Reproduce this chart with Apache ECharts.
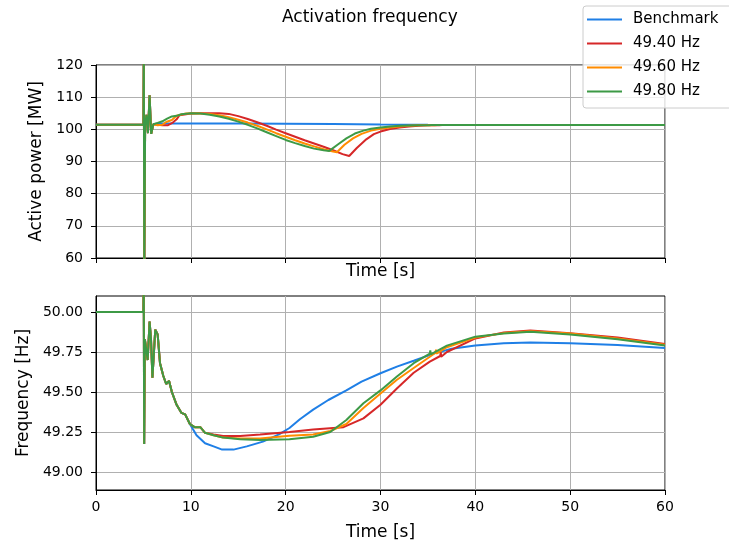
<!DOCTYPE html>
<html><head><meta charset="utf-8">
<script src="https://cdn.jsdelivr.net/npm/echarts@6/dist/echarts.min.js"></script>
<style>html,body{margin:0;padding:0;background:#fff}#c{width:729px;height:545px}</style>
</head><body><div id="c"></div>
<script>
// ---------- data ----------
const seriesNames = ['Benchmark', '49.40 Hz', '49.60 Hz', '49.80 Hz'];
const seriesColors = ['#1f7fe6', '#d62728', '#ff8c00', '#3d9a46'];
const xTicks = [0, 10, 20, 30, 40, 50, 60];
const powerTicks = [60, 70, 80, 90, 100, 110, 120];
const freqTicks = [49.00, 49.25, 49.50, 49.75, 50.00];

// Active power: common pre-event + spike
const tPowCommon = [0, 5.0, 5.04, 5.09, 5.18, 5.32, 5.48, 5.65, 5.82, 6.05];
const pPowCommon = [101.4, 101.4, 126, 55, 101.2, 104.5, 98.8, 110.6, 98.6, 101.6];

const tPowBench = [6.5, 10, 15, 20, 25, 30, 35, 40, 60];
const pPowBench = [101.8, 101.8, 101.8, 101.75, 101.65, 101.5, 101.4, 101.35, 101.35];

const tPow4940 = [6.5, 7.0, 7.6, 8.1, 8.5, 8.8, 9.5, 10, 11, 12, 13, 14, 15, 16, 17, 18, 19, 20, 21, 22, 23, 24, 25, 26, 26.7, 27.5, 28.5, 29.3, 30, 31, 32, 33, 34, 35, 36.2, 36.3, 36.4, 36.5, 40, 60];
const pPow4940 = [101.4, 101.3, 101.3, 102.1, 103.1, 104.4, 104.7, 104.9, 105.0, 105.0, 105.0, 104.8, 104.1, 103.2, 102.2, 101.1, 99.9, 98.8, 97.7, 96.6, 95.6, 94.6, 93.5, 92.3, 91.7, 94.2, 96.9, 98.5, 99.3, 100.1, 100.6, 100.9, 101.1, 101.25, 101.3, 101.9, 100.9, 101.35, 101.35, 101.35];

const tPow4960 = [6.5, 7.0, 7.4, 8.0, 8.5, 9.0, 9.5, 10.5, 12, 13, 14, 15, 16, 17, 18, 19, 20, 21, 22, 23, 24, 25, 25.4, 26.2, 27.1, 28, 29, 30, 31, 32, 33, 34, 35.7, 35.8, 35.9, 36, 40, 60];
const pPow4960 = [101.3, 101.4, 102.3, 102.9, 104.2, 104.6, 104.9, 105.0, 104.8, 104.4, 103.8, 103.0, 102.1, 101.1, 100.0, 98.8, 97.7, 96.6, 95.6, 94.7, 93.8, 93.1, 92.9, 95.2, 97.2, 98.6, 99.6, 100.2, 100.6, 100.9, 101.1, 101.25, 101.3, 101.8, 101.0, 101.35, 101.35, 101.35];

const tPow4980 = [6.5, 7.0, 7.5, 8.0, 8.5, 9.0, 10, 11, 12, 13, 14, 15, 16, 17, 18, 19, 20, 21, 22, 23, 24, 24.6, 25.5, 26.4, 27.3, 28.2, 29, 30, 31, 32, 33, 34, 35.1, 35.2, 35.3, 35.4, 40, 60];
const pPow4980 = [102.0, 102.5, 103.3, 104.0, 104.2, 104.7, 105.0, 104.9, 104.5, 104.0, 103.3, 102.4, 101.4, 100.3, 99.1, 97.9, 96.7, 95.7, 94.8, 94.0, 93.5, 93.3, 95.3, 97.2, 98.7, 99.6, 100.2, 100.6, 100.9, 101.1, 101.2, 101.3, 101.3, 101.9, 100.9, 101.35, 101.35, 101.35];

// Frequency: common pre-event + spike + first decay
const tFreqCommon = [0, 5.0, 5.03, 5.08, 5.15, 5.3, 5.45, 5.65, 5.8, 5.95, 6.25, 6.5, 6.75, 7.1, 7.4, 7.7, 8.0, 8.5, 9.0, 9.4, 9.9];
const fFreqCommon = [50.0, 50.0, 50.3, 49.175, 49.83, 49.83, 49.70, 49.94, 49.83, 49.59, 49.89, 49.86, 49.68, 49.60, 49.55, 49.57, 49.50, 49.42, 49.37, 49.36, 49.30];

const tFreqBench = [10.6, 11.5, 12.4, 13.3, 14.5, 15.9, 17.6, 19.3, 20.4, 21.5, 22.9, 24.5, 26.4, 28, 30, 31.8, 33.5, 35.6, 37.5, 40, 43, 45.8, 50, 55, 60];
const fFreqBench = [49.23, 49.18, 49.16, 49.14, 49.14, 49.16, 49.19, 49.235, 49.275, 49.33, 49.39, 49.45, 49.51, 49.565, 49.617, 49.66, 49.695, 49.74, 49.77, 49.79, 49.805, 49.81, 49.805, 49.793, 49.775];

const tFreq4940 = [10.4, 11.0, 11.5, 12.4, 13.4, 15.2, 17.3, 20.4, 22.9, 26.1, 28.2, 30, 31.7, 33.5, 35.2, 36.3, 36.35, 36.4, 37, 40, 43, 45.8, 50, 55, 60];
const fFreq4940 = [49.28, 49.28, 49.245, 49.235, 49.225, 49.225, 49.235, 49.25, 49.265, 49.28, 49.335, 49.42, 49.52, 49.62, 49.69, 49.725, 49.75, 49.72, 49.75, 49.835, 49.872, 49.885, 49.867, 49.84, 49.80];

const tFreq4960 = [10.4, 11.0, 11.5, 12.4, 13.4, 15.2, 17.3, 20.4, 22.9, 24.7, 26.4, 28.2, 30, 31.7, 33.5, 35.2, 35.8, 35.85, 35.9, 37, 40, 43, 45.8, 50, 55, 60];
const fFreq4960 = [49.28, 49.28, 49.245, 49.23, 49.215, 49.21, 49.21, 49.227, 49.235, 49.256, 49.30, 49.40, 49.49, 49.575, 49.65, 49.72, 49.745, 49.765, 49.74, 49.78, 49.84, 49.868, 49.88, 49.865, 49.835, 49.795];

const tFreq4980 = [10.4, 11.0, 11.5, 12.4, 13.4, 15.2, 17.3, 20.4, 22.9, 24.7, 26.4, 28.2, 30, 31.7, 33.5, 35.2, 35.25, 35.3, 37, 40, 43, 45.8, 50, 55, 60];
const fFreq4980 = [49.28, 49.28, 49.245, 49.23, 49.215, 49.205, 49.20, 49.205, 49.22, 49.25, 49.325, 49.43, 49.51, 49.595, 49.68, 49.74, 49.76, 49.735, 49.79, 49.846, 49.866, 49.877, 49.86, 49.83, 49.79];

// ---------- build ----------
function pairs(t, v) { return t.map((x, i) => [x, v[i]]); }
const powerData = [
  pairs(tPowCommon.concat(tPowBench), pPowCommon.concat(pPowBench)),
  pairs(tPowCommon.concat(tPow4940), pPowCommon.concat(pPow4940)),
  pairs(tPowCommon.concat(tPow4960), pPowCommon.concat(pPow4960)),
  pairs(tPowCommon.concat(tPow4980), pPowCommon.concat(pPow4980))
];
const freqData = [
  pairs(tFreqCommon.concat(tFreqBench), fFreqCommon.concat(fFreqBench)),
  pairs(tFreqCommon.concat(tFreq4940), fFreqCommon.concat(fFreq4940)),
  pairs(tFreqCommon.concat(tFreq4960), fFreqCommon.concat(fFreq4960)),
  pairs(tFreqCommon.concat(tFreq4980), fFreqCommon.concat(fFreq4980))
];

const FONT = 'DejaVu Sans';
const labelStyle = { fontFamily: FONT, fontSize: 14, color: '#000' };
const nameStyle = { fontFamily: FONT, fontSize: 17, color: '#000' };
const gridLine = { show: true, lineStyle: { color: '#b0b0b0', width: 1 } };
const axLine = { show: true, onZero: false, lineStyle: { color: '#000', width: 1 } };
const axTick = { show: true, length: 5, inside: false, lineStyle: { color: '#000', width: 1 } };

const series = [];
seriesNames.forEach((n, i) => {
  series.push({ name: n, type: 'line', xAxisIndex: 0, yAxisIndex: 0, data: powerData[i],
    symbol: 'none', showSymbol: false, clip: true, color: seriesColors[i],
    lineStyle: { width: 2, color: seriesColors[i] } });
});
seriesNames.forEach((n, i) => {
  series.push({ name: n, type: 'line', xAxisIndex: 1, yAxisIndex: 1, data: freqData[i],
    symbol: 'none', showSymbol: false, clip: true, color: seriesColors[i],
    lineStyle: { width: 2, color: seriesColors[i] } });
});

const option = {
  animation: false,
  backgroundColor: '#fff',
  title: { text: 'Activation frequency', left: 282, top: 9, padding: 0,
    textStyle: { fontFamily: FONT, fontSize: 17, fontWeight: 'normal', color: '#000' } },
  legend: { data: seriesNames, orient: 'vertical', left: 583, top: 6, icon: 'rect',
    itemWidth: 35, itemHeight: 2, itemGap: 9, padding: [6, 30, 9, 4],
    backgroundColor: 'rgba(255,255,255,0.8)', borderColor: '#cccccc', borderWidth: 1, borderRadius: 3,
    textStyle: { fontFamily: FONT, fontSize: 15, color: '#000', padding: [0, 0, 0, 6] },
    z: 20 },
  grid: [
    { left: 96, top: 65, width: 569, height: 193, show: true, borderColor: '#000', borderWidth: 1, backgroundColor: 'transparent' },
    { left: 96, top: 296, width: 569, height: 194, show: true, borderColor: '#000', borderWidth: 1, backgroundColor: 'transparent' }
  ],
  xAxis: [
    { gridIndex: 0, type: 'value', min: xTicks[0], max: xTicks[xTicks.length - 1], interval: 10,
      axisLine: axLine, axisTick: axTick, axisLabel: { show: false }, splitLine: gridLine,
      name: 'Time [s]', nameLocation: 'middle', nameGap: 5, nameTextStyle: nameStyle },
    { gridIndex: 1, type: 'value', min: xTicks[0], max: xTicks[xTicks.length - 1], interval: 10,
      axisLine: axLine, axisTick: axTick, axisLabel: Object.assign({ margin: 10 }, labelStyle), splitLine: gridLine,
      name: 'Time [s]', nameLocation: 'middle', nameGap: 34, nameTextStyle: nameStyle }
  ],
  yAxis: [
    { gridIndex: 0, type: 'value', min: powerTicks[0], max: powerTicks[powerTicks.length - 1], interval: 10,
      axisLine: axLine, axisTick: axTick, axisLabel: Object.assign({ margin: 13 }, labelStyle), splitLine: gridLine,
      name: 'Active power [MW]', nameLocation: 'middle', nameGap: 50, nameTextStyle: nameStyle },
    { gridIndex: 1, type: 'value', min: 48.8875, max: 50.1,
      axisLine: axLine,
      axisTick: Object.assign({ customValues: freqTicks }, axTick),
      axisLabel: Object.assign({ margin: 13, customValues: freqTicks, formatter: v => Number(v).toFixed(2) }, labelStyle),
      splitLine: gridLine,
      name: 'Frequency [Hz]', nameLocation: 'middle', nameGap: 64, nameTextStyle: nameStyle }
  ],
  series: series
};
const chart = echarts.init(document.getElementById('c'), null, { renderer: 'canvas' });
chart.setOption(option);
</script>
</body></html>
